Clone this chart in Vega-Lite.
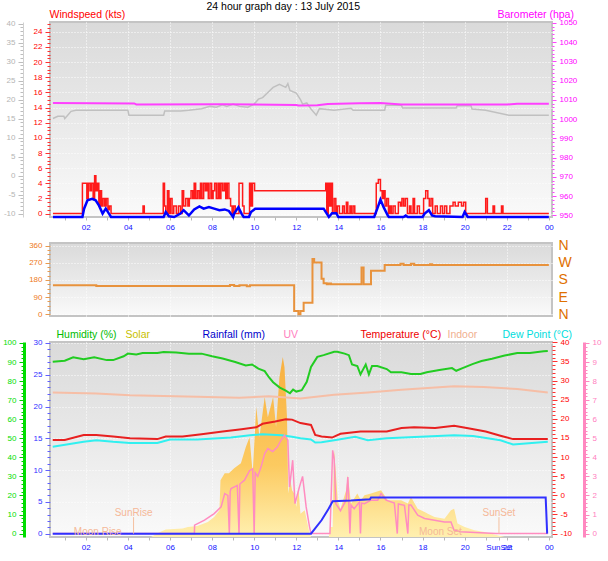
{
"$schema": "https://vega.github.io/schema/vega-lite/v6.json",
"padding": {"left": 1, "top": 0, "right": 4, "bottom": 4},
"background": "white",
"spacing": 26,
"bounds": "flush",
"config": {
  "font": "Liberation Sans",
  "view": {"fill": {"gradient": "linear", "x1": 0, "y1": 0, "x2": 0, "y2": 1, "stops": [{"offset": 0, "color": "#dadada"}, {"offset": 0.5, "color": "#e9e9e9"}, {"offset": 1, "color": "#fafafa"}]}, "stroke": "#c4c4c4", "strokeWidth": 2},
  "axis": {"labelFont": "Liberation Sans", "labelFontSize": 8, "titleFont": "Liberation Sans", "titleFontSize": 10.5, "titleFontWeight": "normal", "domain": false, "grid": false, "tickSize": 3, "labelPadding": 3, "labelFlush": false, "labelOverlap": false, "titleAngle": 0, "titleAlign": "left", "titleBaseline": "middle"}
},
"datasets": {
  "gray": [{"h":0.44,"v":15.0},{"h":0.67,"v":15.6},{"h":0.96,"v":15.6},{"h":1.0,"v":15.0},{"h":1.1,"v":15.6},{"h":1.3,"v":16.9},{"h":1.53,"v":17.2},{"h":4.0,"v":17.2},{"h":4.05,"v":15.9},{"h":5.7,"v":15.9},{"h":5.75,"v":17.0},{"h":6.5,"v":17.0},{"h":6.9,"v":17.2},{"h":7.5,"v":17.6},{"h":7.9,"v":18.2},{"h":8.2,"v":18.0},{"h":8.5,"v":18.6},{"h":8.7,"v":18.2},{"h":9.0,"v":18.8},{"h":9.3,"v":18.2},{"h":9.7,"v":18.0},{"h":10.0,"v":18.8},{"h":10.2,"v":20.1},{"h":10.4,"v":20.5},{"h":10.6,"v":21.6},{"h":10.9,"v":23.2},{"h":11.2,"v":24.0},{"h":11.5,"v":23.2},{"h":11.6,"v":24.2},{"h":11.7,"v":22.4},{"h":12.0,"v":21.7},{"h":12.2,"v":20.0},{"h":12.3,"v":18.8},{"h":12.5,"v":19.1},{"h":12.7,"v":17.5},{"h":12.95,"v":15.9},{"h":13.1,"v":17.6},{"h":13.8,"v":17.2},{"h":14.6,"v":17.7},{"h":14.7,"v":17.2},{"h":16.2,"v":17.2},{"h":16.25,"v":18.5},{"h":17.0,"v":18.5},{"h":17.05,"v":17.8},{"h":19.6,"v":17.8},{"h":19.65,"v":18.4},{"h":20.3,"v":18.4},{"h":20.35,"v":17.5},{"h":21.0,"v":17.2},{"h":22.1,"v":15.9},{"h":24.0,"v":15.9}],
  "baro": [{"h":0.44,"v":1008.3},{"h":4.3,"v":1008.1},{"h":4.4,"v":1007.6},{"h":8.5,"v":1007.7},{"h":12.0,"v":1007.3},{"h":12.1,"v":1007.0},{"h":13.0,"v":1007.2},{"h":13.5,"v":1007.8},{"h":15.0,"v":1008.2},{"h":16.0,"v":1008.3},{"h":17.0,"v":1007.5},{"h":22.0,"v":1007.5},{"h":22.5,"v":1007.9},{"h":24.0,"v":1007.9}],
  "gust": [{"h":0.44,"v":0},{"h":1.84,"v":4},{"h":2.05,"v":2},{"h":2.12,"v":4},{"h":2.2,"v":3},{"h":2.27,"v":4},{"h":2.35,"v":2},{"h":2.42,"v":5},{"h":2.48,"v":3},{"h":2.55,"v":4},{"h":2.62,"v":1},{"h":2.68,"v":3},{"h":2.75,"v":1},{"h":2.82,"v":2},{"h":2.9,"v":1},{"h":2.97,"v":2},{"h":3.05,"v":0.5},{"h":3.12,"v":1},{"h":3.2,"v":0},{"h":4.72,"v":1},{"h":4.78,"v":0},{"h":5.68,"v":4},{"h":5.74,"v":1},{"h":5.8,"v":0},{"h":5.88,"v":3},{"h":5.95,"v":0},{"h":6.02,"v":2},{"h":6.1,"v":0},{"h":6.18,"v":1},{"h":6.3,"v":0},{"h":6.4,"v":1},{"h":6.5,"v":0},{"h":6.58,"v":3},{"h":6.65,"v":1},{"h":6.75,"v":2},{"h":6.85,"v":1},{"h":6.92,"v":2},{"h":7.0,"v":3},{"h":7.08,"v":2},{"h":7.15,"v":4},{"h":7.22,"v":2},{"h":7.3,"v":3},{"h":7.38,"v":2},{"h":7.45,"v":4},{"h":7.52,"v":2},{"h":7.6,"v":4},{"h":7.68,"v":3},{"h":7.75,"v":4},{"h":7.82,"v":2},{"h":7.9,"v":4},{"h":7.98,"v":2},{"h":8.05,"v":3},{"h":8.12,"v":4},{"h":8.2,"v":2},{"h":8.28,"v":4},{"h":8.35,"v":2},{"h":8.42,"v":4},{"h":8.5,"v":3},{"h":8.58,"v":4},{"h":8.65,"v":2},{"h":8.72,"v":4},{"h":8.8,"v":2},{"h":8.88,"v":1},{"h":8.95,"v":0},{"h":9.02,"v":1},{"h":9.1,"v":0},{"h":9.28,"v":4},{"h":9.45,"v":1},{"h":9.52,"v":0},{"h":9.78,"v":4},{"h":9.85,"v":1},{"h":9.92,"v":4},{"h":10.02,"v":3},{"h":13.4,"v":4},{"h":13.45,"v":0},{"h":13.52,"v":4},{"h":13.58,"v":1},{"h":13.65,"v":4},{"h":13.72,"v":0},{"h":13.8,"v":2},{"h":13.88,"v":0},{"h":13.95,"v":1},{"h":14.05,"v":0},{"h":14.2,"v":1},{"h":14.28,"v":0},{"h":14.38,"v":1.5},{"h":14.45,"v":0},{"h":14.55,"v":1},{"h":14.62,"v":0},{"h":14.7,"v":1},{"h":14.78,"v":0},{"h":15.8,"v":4},{"h":15.9,"v":4.5},{"h":16.0,"v":3},{"h":16.08,"v":2},{"h":16.15,"v":3},{"h":16.22,"v":1},{"h":16.3,"v":2},{"h":16.38,"v":0},{"h":16.45,"v":1},{"h":16.52,"v":0},{"h":16.6,"v":1},{"h":16.7,"v":0},{"h":16.85,"v":1.5},{"h":16.95,"v":1},{"h":17.02,"v":2},{"h":17.1,"v":1},{"h":17.18,"v":2},{"h":17.28,"v":0},{"h":17.38,"v":1},{"h":17.45,"v":0},{"h":17.55,"v":2},{"h":17.62,"v":0},{"h":17.75,"v":1},{"h":17.85,"v":0},{"h":18.05,"v":2},{"h":18.15,"v":3},{"h":18.25,"v":2},{"h":18.32,"v":1},{"h":18.4,"v":2},{"h":18.48,"v":0},{"h":18.6,"v":1},{"h":18.7,"v":0},{"h":18.85,"v":1},{"h":18.95,"v":0},{"h":19.05,"v":1},{"h":19.15,"v":0},{"h":19.3,"v":1},{"h":19.45,"v":1.5},{"h":19.55,"v":1},{"h":19.7,"v":1.5},{"h":19.85,"v":1},{"h":19.95,"v":1.5},{"h":20.05,"v":0},{"h":21.0,"v":2},{"h":21.08,"v":0},{"h":21.35,"v":1},{"h":21.42,"v":0},{"h":21.75,"v":1},{"h":21.82,"v":0},{"h":24.0,"v":0}],
  "avg": [{"h":0.44,"v":0},{"h":1.84,"v":0},{"h":1.92,"v":1.1},{"h":2.08,"v":2.2},{"h":2.3,"v":2.4},{"h":2.47,"v":2.2},{"h":2.63,"v":1.5},{"h":2.8,"v":0.45},{"h":2.95,"v":1.1},{"h":3.1,"v":0.45},{"h":3.2,"v":0},{"h":5.7,"v":0},{"h":5.8,"v":0.66},{"h":5.95,"v":0.1},{"h":6.2,"v":0},{"h":6.5,"v":0.45},{"h":6.65,"v":0.9},{"h":6.9,"v":0.2},{"h":7.15,"v":1.0},{"h":7.4,"v":1.4},{"h":7.6,"v":1.1},{"h":7.85,"v":1.3},{"h":8.1,"v":1.1},{"h":8.35,"v":0.9},{"h":8.6,"v":1.0},{"h":8.8,"v":0.8},{"h":9.0,"v":0},{"h":9.05,"v":0.45},{"h":9.25,"v":1.3},{"h":9.4,"v":0.45},{"h":9.5,"v":0},{"h":9.75,"v":0},{"h":9.85,"v":0.66},{"h":10.05,"v":1.1},{"h":13.3,"v":1.1},{"h":13.55,"v":0},{"h":13.7,"v":0.5},{"h":13.9,"v":0.5},{"h":14.0,"v":0},{"h":15.7,"v":0},{"h":15.85,"v":1.1},{"h":16.0,"v":2.3},{"h":16.15,"v":1.3},{"h":16.35,"v":0.2},{"h":16.4,"v":0},{"h":17.1,"v":0},{"h":17.2,"v":0.2},{"h":17.3,"v":0},{"h":18.0,"v":0},{"h":18.1,"v":0.45},{"h":18.3,"v":0.9},{"h":18.45,"v":0.2},{"h":18.6,"v":0.1},{"h":19.9,"v":0},{"h":20.0,"v":0.66},{"h":20.15,"v":0},{"h":24.0,"v":0}],
  "dir": [{"h":0.44,"v":152},{"h":2.5,"v":148},{"h":8.8,"v":148},{"h":8.85,"v":153},{"h":9.05,"v":148},{"h":9.3,"v":152},{"h":9.65,"v":147},{"h":9.8,"v":152},{"h":11.9,"v":17},{"h":12.1,"v":0},{"h":12.2,"v":17},{"h":12.35,"v":61},{"h":12.77,"v":290},{"h":12.85,"v":272},{"h":13.2,"v":186},{"h":13.3,"v":163},{"h":13.45,"v":158},{"h":13.55,"v":161},{"h":13.65,"v":158},{"h":15.1,"v":246},{"h":15.2,"v":158},{"h":15.55,"v":228},{"h":16.2,"v":258},{"h":16.95,"v":265},{"h":17.1,"v":258},{"h":17.45,"v":265},{"h":17.6,"v":258},{"h":18.35,"v":262},{"h":18.45,"v":258},{"h":24.0,"v":258}],
  "solar": [{"h":0.43,"v":0},{"h":5.1,"v":0},{"h":5.5,"v":25},{"h":5.8,"v":39},{"h":6.6,"v":44},{"h":6.85,"v":52},{"h":7.3,"v":58},{"h":7.8,"v":78},{"h":8.1,"v":105},{"h":8.35,"v":140},{"h":8.4,"v":297},{"h":8.6,"v":333},{"h":8.8,"v":333},{"h":9.05,"v":360},{"h":9.37,"v":386},{"h":9.6,"v":470},{"h":9.78,"v":522},{"h":9.93,"v":333},{"h":10.1,"v":680},{"h":10.25,"v":522},{"h":10.5,"v":732},{"h":10.65,"v":627},{"h":10.9,"v":732},{"h":11.04,"v":575},{"h":11.2,"v":836},{"h":11.36,"v":941},{"h":11.44,"v":889},{"h":11.56,"v":627},{"h":11.62,"v":227},{"h":11.72,"v":297},{"h":11.8,"v":245},{"h":11.9,"v":227},{"h":12.0,"v":157},{"h":12.1,"v":260},{"h":12.2,"v":122},{"h":12.4,"v":140},{"h":12.6,"v":35},{"h":12.7,"v":0},{"h":13.55,"v":0},{"h":13.6,"v":52},{"h":13.73,"v":52},{"h":13.8,"v":453},{"h":13.97,"v":192},{"h":14.1,"v":148},{"h":14.37,"v":244},{"h":14.45,"v":323},{"h":14.6,"v":175},{"h":14.9,"v":227},{"h":15.07,"v":192},{"h":15.24,"v":218},{"h":15.55,"v":227},{"h":16.03,"v":244},{"h":16.35,"v":192},{"h":16.66,"v":192},{"h":16.98,"v":192},{"h":17.3,"v":175},{"h":17.45,"v":209},{"h":17.77,"v":148},{"h":18.1,"v":131},{"h":18.25,"v":122},{"h":18.57,"v":105},{"h":19.04,"v":96},{"h":19.35,"v":140},{"h":19.5,"v":148},{"h":19.66,"v":70},{"h":20.0,"v":52},{"h":20.47,"v":35},{"h":20.94,"v":26},{"h":21.5,"v":10},{"h":21.9,"v":0},{"h":23.95,"v":0}],
  "rain": [{"h":0.43,"v":0},{"h":12.7,"v":0},{"h":13.2,"v":2.1},{"h":13.5,"v":3.7},{"h":13.73,"v":5.1},{"h":14.6,"v":5.2},{"h":15.5,"v":5.4},{"h":15.55,"v":5.7},{"h":23.85,"v":5.7},{"h":23.92,"v":0}],
  "hum": [{"h":0.43,"v":90.2},{"h":1.0,"v":90.7},{"h":1.4,"v":92.5},{"h":1.9,"v":91.5},{"h":2.4,"v":92.5},{"h":3.0,"v":91.0},{"h":3.3,"v":91.0},{"h":3.8,"v":93.0},{"h":4.0,"v":94.4},{"h":4.4,"v":94.0},{"h":4.7,"v":94.7},{"h":5.4,"v":94.7},{"h":5.7,"v":95.3},{"h":6.3,"v":95.0},{"h":6.9,"v":94.4},{"h":7.5,"v":94.4},{"h":8.0,"v":93.0},{"h":8.5,"v":91.8},{"h":9.1,"v":90.0},{"h":9.6,"v":88.2},{"h":9.9,"v":88.7},{"h":10.2,"v":86.5},{"h":10.5,"v":85.2},{"h":10.7,"v":82.0},{"h":10.9,"v":79.4},{"h":11.2,"v":76.7},{"h":11.5,"v":75.0},{"h":11.7,"v":73.6},{"h":11.85,"v":75.5},{"h":12.0,"v":74.5},{"h":12.26,"v":75.2},{"h":12.5,"v":79.6},{"h":12.7,"v":87.4},{"h":13.0,"v":92.7},{"h":13.3,"v":93.6},{"h":13.8,"v":95.4},{"h":13.95,"v":95.4},{"h":14.3,"v":94.4},{"h":14.5,"v":93.6},{"h":14.65,"v":88.7},{"h":14.9,"v":87.9},{"h":15.05,"v":83.5},{"h":15.3,"v":88.7},{"h":15.45,"v":83.5},{"h":15.6,"v":87.9},{"h":15.85,"v":87.9},{"h":16.3,"v":86.3},{"h":16.5,"v":84.6},{"h":17.0,"v":84.6},{"h":17.45,"v":83.7},{"h":17.9,"v":83.7},{"h":18.2,"v":84.6},{"h":18.8,"v":85.8},{"h":19.4,"v":86.8},{"h":19.6,"v":85.4},{"h":19.9,"v":86.8},{"h":20.4,"v":89.0},{"h":20.8,"v":90.5},{"h":21.3,"v":91.7},{"h":21.9,"v":93.4},{"h":22.5,"v":94.7},{"h":23.1,"v":94.7},{"h":23.75,"v":95.6},{"h":23.95,"v":95.8}],
  "indoor": [{"h":0.43,"v":26.9},{"h":2.5,"v":26.6},{"h":4.1,"v":26.2},{"h":5.7,"v":26.0},{"h":7.3,"v":25.8},{"h":9.3,"v":25.5},{"h":10.7,"v":25.9},{"h":12.2,"v":25.3},{"h":13.8,"v":26.3},{"h":15.4,"v":26.9},{"h":17.0,"v":27.6},{"h":18.6,"v":28.2},{"h":19.5,"v":28.5},{"h":20.9,"v":28.3},{"h":22.5,"v":27.8},{"h":23.95,"v":26.9}],
  "temp": [{"h":0.43,"v":14.5},{"h":1.0,"v":14.5},{"h":1.9,"v":15.8},{"h":2.5,"v":15.8},{"h":3.3,"v":15.4},{"h":4.1,"v":14.9},{"h":5.4,"v":14.7},{"h":5.8,"v":15.4},{"h":6.6,"v":15.4},{"h":7.5,"v":16.0},{"h":8.5,"v":16.7},{"h":9.4,"v":17.3},{"h":10.1,"v":17.8},{"h":10.4,"v":18.7},{"h":11.0,"v":19.3},{"h":11.5,"v":19.9},{"h":11.8,"v":19.8},{"h":12.2,"v":18.9},{"h":12.7,"v":18.4},{"h":12.9,"v":15.8},{"h":13.2,"v":15.4},{"h":13.7,"v":15.1},{"h":14.1,"v":16.1},{"h":15.05,"v":16.7},{"h":16.3,"v":16.7},{"h":17.0,"v":17.6},{"h":17.6,"v":17.8},{"h":18.6,"v":17.6},{"h":19.5,"v":18.2},{"h":20.1,"v":17.6},{"h":21.0,"v":16.7},{"h":21.7,"v":15.6},{"h":22.3,"v":14.7},{"h":23.95,"v":14.7}],
  "dew": [{"h":0.43,"v":12.7},{"h":1.9,"v":14.0},{"h":2.5,"v":14.4},{"h":3.3,"v":14.0},{"h":4.1,"v":13.7},{"h":5.4,"v":13.7},{"h":6.0,"v":14.6},{"h":7.3,"v":14.6},{"h":8.9,"v":15.1},{"h":9.8,"v":15.7},{"h":10.4,"v":16.0},{"h":11.3,"v":15.7},{"h":11.8,"v":15.3},{"h":12.2,"v":14.9},{"h":12.7,"v":14.6},{"h":12.9,"v":13.8},{"h":13.2,"v":13.9},{"h":13.8,"v":14.4},{"h":14.8,"v":15.3},{"h":15.4,"v":14.4},{"h":16.3,"v":14.9},{"h":17.9,"v":15.3},{"h":19.5,"v":15.7},{"h":20.4,"v":15.5},{"h":21.7,"v":14.4},{"h":22.3,"v":13.3},{"h":23.95,"v":14.0}],
  "uv": [{"h":0.43,"v":0},{"h":7.16,"v":0},{"h":7.17,"v":0.44},{"h":7.64,"v":0.7},{"h":8.1,"v":1.05},{"h":8.43,"v":1.4},{"h":8.6,"v":2.1},{"h":8.75,"v":2.0},{"h":8.82,"v":0},{"h":8.86,"v":2.2},{"h":8.9,"v":2.36},{"h":9.2,"v":2.53},{"h":9.28,"v":0},{"h":9.32,"v":2.6},{"h":9.54,"v":2.8},{"h":9.78,"v":3.3},{"h":9.93,"v":3.4},{"h":10.0,"v":0},{"h":10.05,"v":3.2},{"h":10.17,"v":3.0},{"h":10.33,"v":3.5},{"h":10.5,"v":4.2},{"h":10.65,"v":4.46},{"h":10.88,"v":4.3},{"h":11.1,"v":4.54},{"h":11.28,"v":4.9},{"h":11.44,"v":5.16},{"h":11.6,"v":4.9},{"h":11.68,"v":2.44},{"h":11.83,"v":3.85},{"h":11.94,"v":1.57},{"h":12.15,"v":2.44},{"h":12.3,"v":3.0},{"h":12.47,"v":1.4},{"h":12.63,"v":0.35},{"h":12.7,"v":0},{"h":13.6,"v":0},{"h":13.73,"v":4.37},{"h":13.8,"v":3.9},{"h":13.88,"v":1.57},{"h":14.1,"v":1.2},{"h":14.37,"v":1.75},{"h":14.45,"v":2.97},{"h":14.5,"v":1.57},{"h":14.55,"v":0},{"h":14.6,"v":1.5},{"h":14.75,"v":1.3},{"h":15.0,"v":1.65},{"h":15.05,"v":0},{"h":15.1,"v":1.6},{"h":15.24,"v":1.57},{"h":15.55,"v":1.75},{"h":15.87,"v":1.75},{"h":16.03,"v":2.1},{"h":16.27,"v":1.75},{"h":16.66,"v":1.6},{"h":16.8,"v":0},{"h":16.85,"v":1.55},{"h":17.14,"v":1.48},{"h":17.3,"v":0},{"h":17.35,"v":1.5},{"h":17.45,"v":1.5},{"h":17.77,"v":0.96},{"h":18.1,"v":0.79},{"h":18.57,"v":0.7},{"h":19.04,"v":0.61},{"h":19.35,"v":0.61},{"h":19.5,"v":0.17},{"h":19.8,"v":0.09},{"h":20.5,"v":0.05},{"h":21.5,"v":0},{"h":23.95,"v":0}],
  "events": [{"label":"SunRise","h":4.27,"kind":"sun"},{"label":"SunSet","h":21.63,"kind":"sun"},{"label":"Moon Rise","h":2.57,"kind":"moon"},{"label":"Moon Set","h":18.85,"kind":"moon"}]
},
"vconcat": [
  {
    "width": 502, "height": 195,
    "resolve": {"scale": {"y": "independent"}},
    "encoding": {"x": {"field": "h", "type": "quantitative", "scale": {"domain": [0.3, 24.15], "nice": false, "zero": false},
      "axis": {"values": [1,2,3,4,5,6,7,8,9,10,11,12,13,14,15,16,17,18,19,20,21,22,23,24], "labelExpr": "datum.value == 24 ? '00' : (datum.value % 2 == 0 ? (datum.value < 10 ? '0' + datum.value : '' + datum.value) : '')", "labelColor": "#1010ff", "tickColor": "#b8b8b8", "tickSize": 3, "labelPadding": 3, "grid": true, "gridColor": "#ffffff", "gridDash": [1, 2], "gridOpacity": {"condition": {"test": "datum.value % 2 == 0 && datum.value < 24", "value": 1}, "value": 0}, "title": null}}},
    "layer": [
      {"data": {"name": "gray"}, "mark": {"type": "line", "color": "#c0c0c0", "strokeWidth": 1.5},
       "encoding": {"y": {"field": "v", "type": "quantitative", "scale": {"domain": [-10.9, 40.4], "nice": false, "zero": false},
         "axis": {"orient": "left", "offset": 27, "values": [-10,-9,-8,-7,-6,-5,-4,-3,-2,-1,0,1,2,3,4,5,6,7,8,9,10,11,12,13,14,15,16,17,18,19,20,21,22,23,24,25,26,27,28,29,30,31,32,33,34,35,36,37,38,39,40], "labelExpr": "datum.value % 5 == 0 ? '' + datum.value : ''", "labelColor": "#b4b4b4", "tickColor": "#bdbdbd", "tickSize": {"condition": {"test": "datum.value % 5 == 0", "value": 5}, "value": 3}, "domain": true, "domainColor": "#d0d0d0", "title": null}}}},
      {"data": {"name": "baro"}, "mark": {"type": "line", "color": "#ff40ff", "strokeWidth": 2},
       "encoding": {"y": {"field": "v", "type": "quantitative", "scale": {"domain": [949.1, 1050.4], "nice": false, "zero": false},
         "axis": {"orient": "right", "offset": 0, "values": [950,952,954,956,958,960,962,964,966,968,970,972,974,976,978,980,982,984,986,988,990,992,994,996,998,1000,1002,1004,1006,1008,1010,1012,1014,1016,1018,1020,1022,1024,1026,1028,1030,1032,1034,1036,1038,1040,1042,1044,1046,1048,1050], "labelExpr": "datum.value % 10 == 0 ? '' + datum.value : ''", "labelColor": "#ff00ff", "tickColor": "#ff40ff", "tickSize": {"condition": {"test": "datum.value % 10 == 0", "value": 4}, "value": 2}, "title": "Barometer (hpa)", "titleColor": "#ff00ff", "titleX": -55, "titleY": -7.5}}}},
      {"data": {"name": "gust"}, "mark": {"type": "line", "color": "#ff1a1a", "strokeWidth": 1.5, "interpolate": "step-after"},
       "encoding": {"y": {"field": "v", "type": "quantitative", "scale": {"domain": [-0.45, 25.3], "nice": false, "zero": false},
         "axis": {"orient": "left", "offset": 0, "values": [0,0.5,1,1.5,2,2.5,3,3.5,4,4.5,5,5.5,6,6.5,7,7.5,8,8.5,9,9.5,10,10.5,11,11.5,12,12.5,13,13.5,14,14.5,15,15.5,16,16.5,17,17.5,18,18.5,19,19.5,20,20.5,21,21.5,22,22.5,23,23.5,24,24.5,25], "labelExpr": "datum.value % 2 == 0 && datum.value <= 24 ? '' + datum.value : ''", "labelColor": "#ff0000", "tickColor": "#ff3030", "tickSize": {"condition": {"test": "datum.value % 2 == 0", "value": 5}, "value": 3}, "grid": true, "gridColor": "#ffffff", "gridDash": [1, 2], "gridOpacity": {"condition": {"test": "datum.value % 2 == 0", "value": 1}, "value": 0}, "title": "Windspeed (kts)", "titleColor": "#ff0000", "titleX": -1, "titleY": -7.5}}}},
      {"data": {"name": "avg"}, "mark": {"type": "line", "color": "#0000ff", "strokeWidth": 2.5},
       "encoding": {"y": {"field": "v", "type": "quantitative", "scale": {"domain": [0, 25.75], "nice": false, "zero": false},
         "axis": {"orient": "left", "offset": 0, "labels": false, "ticks": false, "domain": false, "grid": false, "title": "24 hour graph day : 13 July 2015", "titleColor": "#000000", "titleFontSize": 10.5, "titleX": 156, "titleY": -16}}}}
    ]
  },
  {
    "width": 502, "height": 73,
    "resolve": {"scale": {"y": "independent"}},
    "encoding": {"x": {"field": "h", "type": "quantitative", "scale": {"domain": [0.3, 24.15], "nice": false, "zero": false},
      "axis": {"values": [2,4,6,8,10,12,14,16,18,20,22], "labels": false, "ticks": false, "grid": true, "gridColor": "#ffffff", "gridDash": [1, 2], "title": null}}},
    "layer": [
      {"data": {"name": "dir"}, "mark": {"type": "line", "color": "#e8923c", "strokeWidth": 2, "interpolate": "step-after"},
       "encoding": {"y": {"field": "v", "type": "quantitative", "scale": {"domain": [-9, 374], "nice": false, "zero": false},
         "axis": {"orient": "left", "offset": 0, "values": [0,22.5,45,67.5,90,112.5,135,157.5,180,202.5,225,247.5,270,292.5,315,337.5,360], "labelExpr": "datum.value % 90 == 0 ? '' + datum.value : ''", "labelColor": "#ee7a1a", "tickColor": "#e89a50", "tickSize": {"condition": {"test": "datum.value % 90 == 0", "value": 5}, "value": 3}, "grid": true, "gridColor": "#ffffff", "gridDash": [1, 2], "gridOpacity": {"condition": {"test": "datum.value % 90 == 0", "value": 1}, "value": 0}, "title": null}}}},
      {"data": {"name": "dir"}, "mark": {"type": "line", "color": "#e8923c", "strokeWidth": 2, "interpolate": "step-after", "opacity": 0},
       "encoding": {"y": {"field": "v", "type": "quantitative", "scale": {"domain": [-9, 374], "nice": false, "zero": false},
         "axis": {"orient": "right", "offset": 0, "values": [0, 90, 180, 270, 360], "labelExpr": "datum.value == 90 ? 'E' : datum.value == 180 ? 'S' : datum.value == 270 ? 'W' : 'N'", "labelColor": "#e07000", "labelFontSize": 14, "ticks": false, "labelPadding": 6, "title": null}}}}
    ]
  },
  {
    "width": 502, "height": 195,
    "resolve": {"scale": {"y": "independent"}},
    "encoding": {"x": {"field": "h", "type": "quantitative", "scale": {"domain": [0.3, 24.15], "nice": false, "zero": false},
      "axis": {"values": [1,2,3,4,5,6,7,8,9,10,11,12,13,14,15,16,17,18,19,20,21,21.63,22,23,24], "labelExpr": "datum.value == 24 ? '00' : (datum.value > 21.5 && datum.value < 21.7 ? 'SunSet' : (datum.value % 2 == 0 ? (datum.value < 10 ? '0' + datum.value : '' + datum.value) : ''))", "labelColor": "#1010ff", "tickColor": "#b8b8b8", "tickSize": 3, "labelPadding": 3, "grid": true, "gridColor": "#ffffff", "gridDash": [1, 2], "gridOpacity": {"condition": {"test": "datum.value % 2 == 0 && datum.value < 24", "value": 1}, "value": 0}, "title": null}}},
    "layer": [
      {"data": {"name": "solar"}, "mark": {"type": "area", "color": {"gradient": "linear", "x1": 0, "y1": 0, "x2": 0, "y2": 1, "stops": [{"offset": 0, "color": "#f8b040"}, {"offset": 0.6, "color": "#fcca60"}, {"offset": 1, "color": "#fff0b0"}]}},
       "encoding": {"y": {"field": "v", "type": "quantitative", "scale": {"domain": [0, 1020], "nice": false, "zero": false},
         "axis": {"orient": "left", "offset": 0, "labels": false, "ticks": false, "domain": false, "grid": false, "title": "Solar", "titleColor": "#c8c000", "titleX": 75, "titleY": -8}}}},
      {"data": {"name": "hum"}, "mark": {"type": "line", "color": "#22cc22", "strokeWidth": 2},
       "encoding": {"y": {"field": "v", "type": "quantitative", "scale": {"domain": [-1.8, 100.5], "nice": false, "zero": false},
         "axis": {"orient": "left", "offset": 26, "values": [0,2,4,6,8,10,12,14,16,18,20,22,24,26,28,30,32,34,36,38,40,42,44,46,48,50,52,54,56,58,60,62,64,66,68,70,72,74,76,78,80,82,84,86,88,90,92,94,96,98,100], "labelExpr": "datum.value % 10 == 0 ? '' + datum.value : ''", "labelColor": "#00dd00", "tickColor": "#00cc00", "tickSize": {"condition": {"test": "datum.value % 10 == 0", "value": 5}, "value": 3}, "domain": true, "domainColor": "#00dd00", "domainWidth": 3, "title": "Humidity (%)", "titleColor": "#00bb00", "titleX": 32, "titleY": -8}}}},
      {"data": {"name": "indoor"}, "mark": {"type": "line", "color": "#f6bea6", "strokeWidth": 2},
       "encoding": {"y": {"field": "v", "type": "quantitative", "scale": {"domain": [-10.9, 40.1], "nice": false, "zero": false},
         "axis": {"orient": "right", "offset": 0, "labels": false, "ticks": false, "domain": false, "grid": false, "title": "Indoor", "titleColor": "#f0b090", "titleX": -105, "titleY": -8}}}},
      {"data": {"name": "temp"}, "mark": {"type": "line", "color": "#e82020", "strokeWidth": 2},
       "encoding": {"y": {"field": "v", "type": "quantitative", "scale": {"domain": [-10.9, 40.1], "nice": false, "zero": false},
         "axis": {"orient": "right", "offset": 0, "values": [-10,-9,-8,-7,-6,-5,-4,-3,-2,-1,0,1,2,3,4,5,6,7,8,9,10,11,12,13,14,15,16,17,18,19,20,21,22,23,24,25,26,27,28,29,30,31,32,33,34,35,36,37,38,39,40], "labelExpr": "datum.value % 5 == 0 ? '' + datum.value : ''", "labelColor": "#ff0000", "tickColor": "#ff3030", "tickSize": {"condition": {"test": "datum.value % 5 == 0", "value": 5}, "value": 3}, "title": "Temperature (°C)", "titleColor": "#ee0000", "titleX": -192, "titleY": -8}}}},
      {"data": {"name": "dew"}, "mark": {"type": "line", "color": "#30f0f0", "strokeWidth": 2},
       "encoding": {"y": {"field": "v", "type": "quantitative", "scale": {"domain": [-10.9, 40.1], "nice": false, "zero": false},
         "axis": {"orient": "right", "offset": 0, "labels": false, "ticks": false, "domain": false, "grid": false, "title": "Dew Point (°C)", "titleColor": "#00dddd", "titleX": -50, "titleY": -8}}}},
      {"data": {"name": "uv"}, "mark": {"type": "line", "color": "#ff8cc0", "strokeWidth": 1.5},
       "encoding": {"y": {"field": "v", "type": "quantitative", "scale": {"domain": [-0.18, 10.05], "nice": false, "zero": false},
         "axis": {"orient": "right", "offset": 32, "values": [0,0.2,0.4,0.6,0.8,1,1.2,1.4,1.6,1.8,2,2.2,2.4,2.6,2.8,3,3.2,3.4,3.6,3.8,4,4.2,4.4,4.6,4.8,5,5.2,5.4,5.6,5.8,6,6.2,6.4,6.6,6.8,7,7.2,7.4,7.6,7.8,8,8.2,8.4,8.6,8.8,9,9.2,9.4,9.6,9.8,10], "labelExpr": "datum.value % 1 == 0 ? '' + datum.value : ''", "labelColor": "#ff80c0", "tickColor": "#ff88c0", "tickSize": {"condition": {"test": "datum.value % 1 == 0", "value": 5}, "value": 3}, "domain": true, "domainColor": "#ff88c0", "domainWidth": 3, "title": "UV", "titleColor": "#ff80c0", "titleX": -301, "titleY": -8}}}},
      {"data": {"name": "rain"}, "mark": {"type": "line", "color": "#3030ff", "strokeWidth": 2},
       "encoding": {"y": {"field": "v", "type": "quantitative", "scale": {"domain": [-0.53, 30.15], "nice": false, "zero": false},
         "axis": {"orient": "left", "offset": 0, "values": [0,1,2,3,4,5,6,7,8,9,10,11,12,13,14,15,16,17,18,19,20,21,22,23,24,25,26,27,28,29,30], "labelExpr": "datum.value % 5 == 0 ? '' + datum.value : ''", "labelColor": "#3030ff", "tickColor": "#6060ff", "tickSize": {"condition": {"test": "datum.value % 5 == 0", "value": 5}, "value": 3}, "grid": true, "gridColor": "#ffffff", "gridDash": [1, 2], "gridOpacity": {"condition": {"test": "datum.value % 5 == 0", "value": 1}, "value": 0}, "title": "Rainfall (mm)", "titleColor": "#0000cc", "titleX": 152, "titleY": -8}}}},
      {"data": {"name": "events"}, "transform": [{"filter": "datum.kind == 'sun'"}], "mark": {"type": "rule", "color": "#f5c0a0", "strokeWidth": 1},
       "encoding": {"y": {"datum": 0, "type": "quantitative", "scale": {"domain": [-0.53, 30.15], "nice": false, "zero": false}, "axis": null}, "y2": {"datum": 2.6}}},
      {"data": {"name": "events"}, "transform": [{"filter": "datum.kind == 'sun'"}], "mark": {"type": "text", "color": "#f5b898", "fontSize": 10, "baseline": "middle"},
       "encoding": {"text": {"field": "label"}, "y": {"datum": 3.25, "type": "quantitative", "scale": {"domain": [-0.53, 30.15], "nice": false, "zero": false}, "axis": null}}},
      {"data": {"name": "events"}, "transform": [{"filter": "datum.kind == 'moon'"}], "mark": {"type": "text", "color": "#f5b898", "fontSize": 10, "baseline": "middle"},
       "encoding": {"text": {"field": "label"}, "y": {"datum": 0.2, "type": "quantitative", "scale": {"domain": [-0.53, 30.15], "nice": false, "zero": false}, "axis": null}}}
    ]
  }
]
}
